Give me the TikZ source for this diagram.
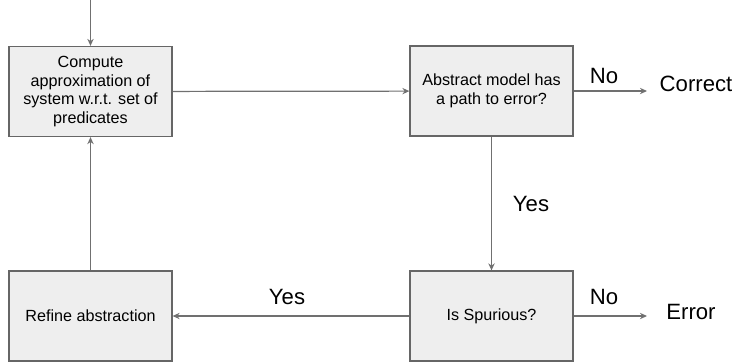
\documentclass[tikz,border=0pt]{standalone}
\usepackage{fontspec}
\setmainfont{Liberation Sans}
\usepackage{tikz}
\usetikzlibrary{arrows.meta}
\usetikzlibrary{positioning}
\definecolor{boxfill}{HTML}{EEEEEE}
\definecolor{boxline}{HTML}{666666}
\definecolor{flowline}{HTML}{707070}
\tikzset{stepbox/.style={rectangle,draw=boxline,fill=boxfill,line width=0.7pt,minimum width=3.26cm,minimum height=1.8cm,align=center,font=\fontsize{9.2}{10.6}\selectfont}}
\tikzset{flow/.style={draw=flowline,line width=0.7pt,-{Stealth[length=4pt,width=3.6pt]}}}
\tikzset{outcome/.style={font=\fontsize{12.6}{14}\selectfont,inner sep=0pt}}

\begin{document}
\begin{tikzpicture}[x=0.02cm,y=-0.02cm]
\useasboundingbox (0,0) rectangle (734,363);

\node (B1) at (90.5,91.5) [stepbox] {Compute\\approximation of\\system w.r.t. set of\\predicates};
\node (B2) at (491.5,91) [stepbox] {Abstract model has\\a path to error?};
\node (B3) at (491.5,316) [stepbox] {Is Spurious?};
\node (B4) at (90.5,316) [stepbox] {Refine abstraction};

\coordinate (S) at (90.5,0);
\coordinate (C) at (647,91);
\coordinate (E) at (647,316);
\node (Correct) at (696,84) [outcome] {Correct};
\node (Error) at (691,312) [outcome] {Error};

\draw[flow] (S) -- (B1);
\draw[flow] (B1) -- (B2);
\draw[flow] (B2.east) -- (C);
\draw[flow] (B2) -- (B3);
\draw[flow] (B3.east) -- (E);
\draw[flow] (B3) -- (B4);
\draw[flow] (B4) -- (B1);

\node at (604,76) [outcome] {No};
\node at (604,297) [outcome] {No};
\node at (531,204) [outcome] {Yes};
\node at (287,297) [outcome] {Yes};
\end{tikzpicture}
\end{document}
